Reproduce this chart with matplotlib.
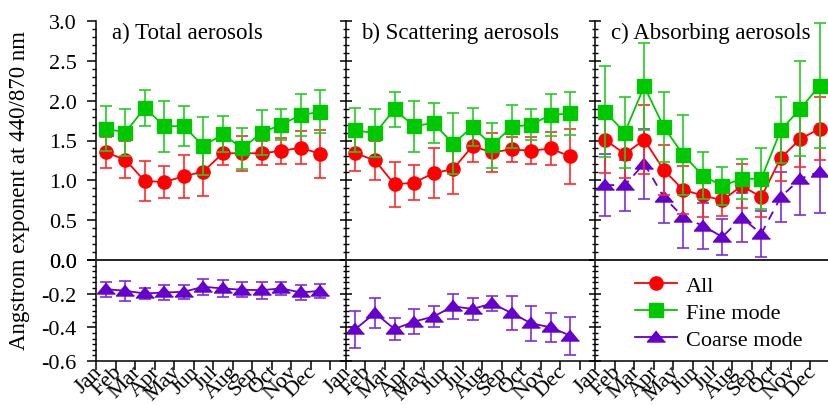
import matplotlib
matplotlib.use("Agg")
import matplotlib.pyplot as plt
import matplotlib.transforms as mtransforms
from matplotlib.ticker import MultipleLocator, AutoMinorLocator, FixedLocator
from matplotlib.lines import Line2D

plt.rcParams['font.family'] = ['Liberation Serif', 'DejaVu Serif']
plt.rcParams['axes.unicode_minus'] = False

# Data
months = ['Jan', 'Feb', 'Mar', 'Apr', 'May', 'Jun',
          'Jul', 'Aug', 'Sep', 'Oct', 'Nov', 'Dec']
month_pos = list(range(1, 13))

# a) Total aerosols
all_a = [1.35, 1.26, 0.99, 0.98, 1.05, 1.11, 1.34, 1.34, 1.34, 1.37, 1.41, 1.33]
all_a_err = [0.20, 0.23, 0.25, 0.20, 0.27, 0.31, 0.15, 0.22, 0.15, 0.16, 0.21, 0.30]
fine_a = [1.65, 1.60, 1.91, 1.68, 1.68, 1.43, 1.58, 1.40, 1.60, 1.70, 1.82, 1.86]
fine_a_err = [0.28, 0.29, 0.23, 0.32, 0.25, 0.36, 0.23, 0.26, 0.28, 0.19, 0.26, 0.27]
coarse_a = [-0.173, -0.183, -0.199, -0.193, -0.189, -0.159,
            -0.169, -0.177, -0.179, -0.169, -0.193, -0.183]
coarse_a_err = [0.045, 0.06, 0.03, 0.045, 0.04, 0.047,
                0.05, 0.045, 0.05, 0.04, 0.043, 0.04]

# b) Scattering aerosols
all_b = [1.34, 1.25, 0.95, 0.97, 1.09, 1.14, 1.43, 1.35, 1.39, 1.37, 1.40, 1.30]
all_b_err = [0.22, 0.24, 0.28, 0.22, 0.31, 0.31, 0.20, 0.25, 0.16, 0.17, 0.21, 0.34]
fine_b = [1.63, 1.59, 1.89, 1.68, 1.72, 1.46, 1.67, 1.44, 1.67, 1.70, 1.82, 1.84]
fine_b_err = [0.28, 0.30, 0.22, 0.32, 0.25, 0.38, 0.24, 0.28, 0.27, 0.19, 0.26, 0.27]
coarse_b = [-0.41, -0.315, -0.41, -0.366, -0.336, -0.275,
            -0.291, -0.258, -0.315, -0.376, -0.40, -0.449]
coarse_b_err = [0.11, 0.089, 0.066, 0.074, 0.064, 0.073,
                0.068, 0.042, 0.103, 0.105, 0.087, 0.113]

# c) Absorbing aerosols
all_c = [1.51, 1.33, 1.51, 1.13, 0.88, 0.81, 0.75, 0.93, 0.79, 1.28, 1.52, 1.65]
all_c_err = [0.42, 0.30, 0.43, 0.31, 0.30, 0.27, 0.20, 0.28, 0.25, 0.29, 0.35, 0.40]
fine_c = [1.86, 1.60, 2.18, 1.67, 1.32, 1.06, 0.93, 1.02, 1.02, 1.63, 1.90, 2.19]
fine_c_err = [0.57, 0.45, 0.55, 0.44, 0.50, 0.29, 0.24, 0.25, 0.38, 0.41, 0.60, 0.78]
coarse_c = [0.94, 0.94, 1.21, 0.79, 0.54, 0.43, 0.29, 0.53, 0.33, 0.79, 1.02, 1.11]
coarse_c_err = [0.39, 0.32, 0.44, 0.33, 0.39, 0.29, 0.23, 0.31, 0.29, 0.31, 0.45, 0.52]

titles = ['a) Total aerosols', 'b) Scattering aerosols', 'c) Absorbing aerosols']

RED = '#ff0000'
GREEN = '#00c800'
PURPLE = '#6600cc'
tri = [(0, 0.72), (-1, -0.5), (1, -0.5)]

W, H = 829, 406
fig = plt.figure(figsize=(W / 100, H / 100), dpi=100)

px = 19.51  # pixels per month
xspans = [(0.5, 13.3), (0.5, 13.3), (0.5, 12.47)]
left = 96.0
up_b, up_h = (H - 261) / H, 239 / H
lo_b, lo_h = (H - 362) / H, 101 / H


def draw(ax, y, err, color, ecolor, marker, ms, ls='-', z=2):
    ax.errorbar(month_pos, y, yerr=err, color=color, ecolor=ecolor, marker=marker,
                markersize=ms, markeredgecolor=color, linestyle=ls, linewidth=1.3,
                elinewidth=1.2, capsize=4, capthick=1.2, zorder=z, clip_on=False)


panels = [
    (all_a, all_a_err, fine_a, fine_a_err, coarse_a, coarse_a_err),
    (all_b, all_b_err, fine_b, fine_b_err, coarse_b, coarse_b_err),
    (all_c, all_c_err, fine_c, fine_c_err, coarse_c, coarse_c_err),
]

for i, (al, ale, fi, fie, co, coe) in enumerate(panels):
    x0, x1 = xspans[i]
    wpx = (x1 - x0) * px
    axu = fig.add_axes([left / W, up_b, wpx / W, up_h])
    axl = fig.add_axes([left / W, lo_b, wpx / W, lo_h])
    left += wpx

    for ax in (axu, axl):
        ax.set_xlim(x0, x1)
        ax.spines['right'].set_visible(False)
        ax.patch.set_alpha(0)
        for s in ax.spines.values():
            s.set_linewidth(1.1)
    axu.spines['top'].set_visible(False)
    axu.spines['bottom'].set_visible(False)
    axl.spines['top'].set_linewidth(1.4)
    axl.spines['top'].set_color('#222222')

    axu.set_ylim(0, 3.0)
    axl.set_ylim(-0.6, 0)
    axu.yaxis.set_major_locator(MultipleLocator(0.5))
    axu.yaxis.set_minor_locator(AutoMinorLocator(5))
    axl.yaxis.set_major_locator(MultipleLocator(0.2))
    axl.yaxis.set_minor_locator(AutoMinorLocator(6))
    axu.yaxis.set_major_formatter('{x:.1f}')
    axl.yaxis.set_major_formatter('{x:.1f}')

    axu.set_xticks([])
    axl.set_xticks(month_pos)
    axl.set_xticklabels(months, rotation=45, ha='right', va='top', fontsize=16)
    off = mtransforms.ScaledTranslation(9 / 100, 0, fig.dpi_scale_trans)
    for lab in axl.get_xticklabels():
        lab.set_transform(lab.get_transform() + off)
    axl.xaxis.set_minor_locator(FixedLocator([m + 0.5 for m in range(0, 13)]))
    axl.tick_params(axis='x', which='major', length=0, pad=0.5)
    axl.tick_params(axis='x', which='minor', direction='out', length=6.5, width=1.1)

    if i == 0:
        for ax in (axu, axl):
            ax.tick_params(axis='y', which='major', direction='out', length=6.5,
                           width=1.1, labelsize=16, pad=7.5)
            ax.tick_params(axis='y', which='minor', direction='out', length=3, width=1.0)
    else:
        for ax in (axu, axl):
            ax.tick_params(axis='y', which='major', direction='inout', length=9,
                           width=1.1, labelleft=False)
            ax.tick_params(axis='y', which='minor', direction='inout', length=5, width=1.0)

    # series
    if i < 2:
        draw(axl, co, coe, PURPLE, '#7a2ee0', tri, 13, z=2)
    else:
        draw(axu, co, coe, PURPLE, '#7a2ee0', tri, 13, ls=(0, (5, 4)), z=2)
    draw(axu, al, ale, RED, '#ff2a2a', 'o', 9.5, z=3)
    draw(axu, fi, fie, GREEN, '#22cc22', 's', 9.5, z=4)

    tr = mtransforms.blended_transform_factory(axu.transData, axu.transAxes)
    axu.text(1.3, 0.93, titles[i], transform=tr, fontsize=16.5, va='baseline', ha='left')

    if i == 2:
        handles = [
            Line2D([], [], color=RED, marker='o', markersize=9.5, lw=1.3),
            Line2D([], [], color=GREEN, marker='s', markersize=9.5, lw=1.3),
            Line2D([], [], color=PURPLE, marker=tri, markersize=13, lw=1.3),
        ]
        axl.legend(handles, ['All', 'Fine mode', 'Coarse mode'], loc='upper left',
                   bbox_to_anchor=(0.17, 0.85), frameon=False, fontsize=16,
                   borderpad=0, borderaxespad=0, handlelength=1.9,
                   handletextpad=0.4, labelspacing=0.3)

fig.text(0.024, 0.53, 'Angstrom exponent at 440/870 nm', rotation=90,
         fontsize=16.5, ha='center', va='center')

fig.savefig('out.png', dpi=100)
